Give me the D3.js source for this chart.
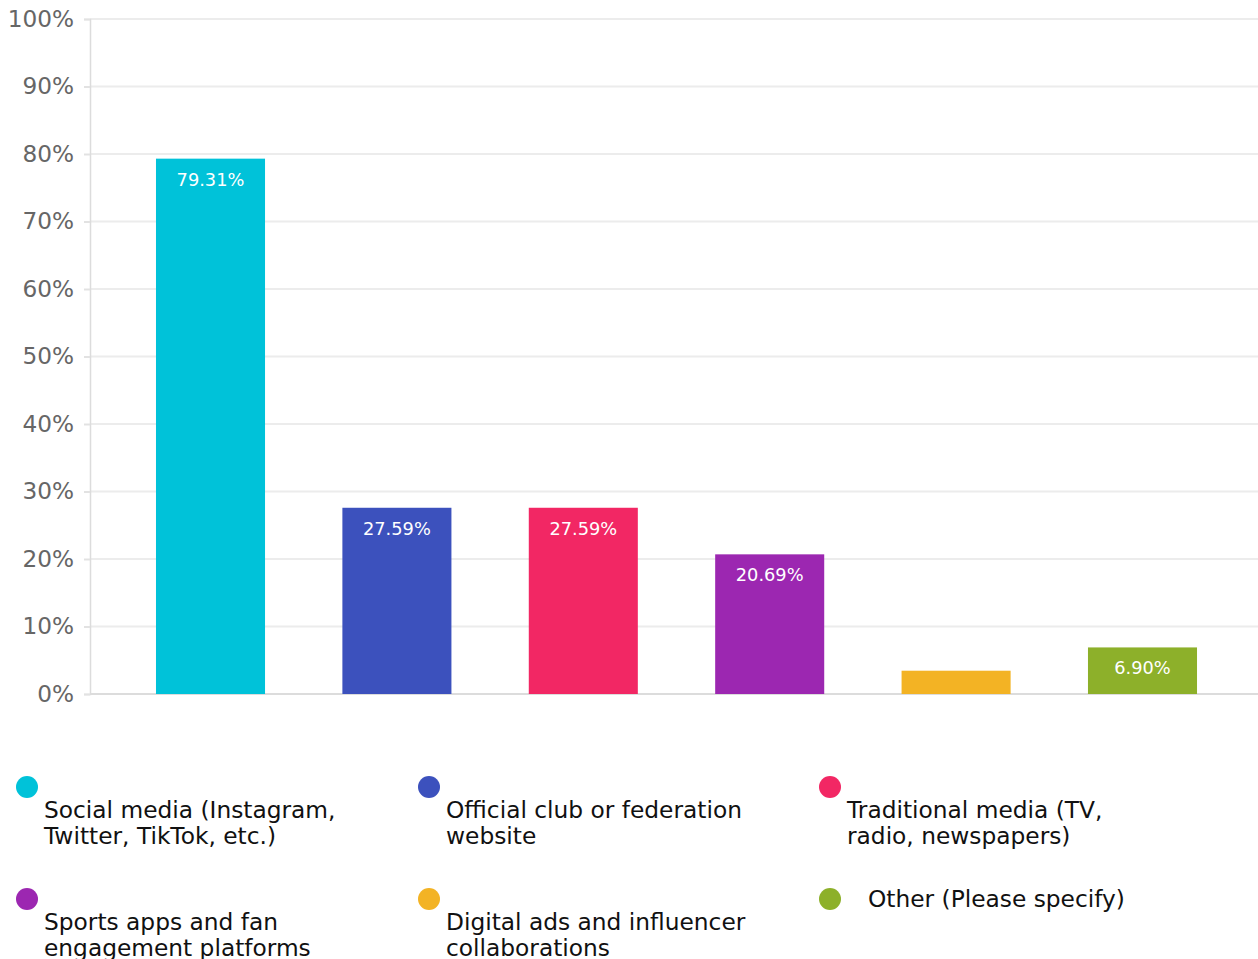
<!DOCTYPE html>
<html>
<head>
<meta charset="utf-8">
<script src="https://cdn.jsdelivr.net/npm/d3@7"></script>
<style>
  html, body { margin: 0; padding: 0; background: #fff; }
  svg { display: block; font-family: "DejaVu Sans", sans-serif; }
</style>
</head>
<body>
<svg id="chart" width="1258" height="959"></svg>
<script>
// Survey answers: share of respondents per information channel
const categories = [
  "Social media (Instagram, Twitter, TikTok, etc.)",
  "Official club or federation website",
  "Traditional media (TV, radio, newspapers)",
  "Sports apps and fan engagement platforms",
  "Digital ads and influencer collaborations",
  "Other (Please specify)"
];
const values = [79.31, 27.59, 27.59, 20.69, 3.45, 6.90];
const showLabel = [true, true, true, true, false, true];
const colors = ["#00c2d9", "#3c51bd", "#f22764", "#9c27b1", "#f3b324", "#8db02a"];
// Legend text broken into lines as displayed
const legendLines = [
  ["Social media (Instagram,", "Twitter, TikTok, etc.)"],
  ["Official club or federation", "website"],
  ["Traditional media (TV,", "radio, newspapers)"],
  ["Sports apps and fan", "engagement platforms"],
  ["Digital ads and influencer", "collaborations"],
  ["Other (Please specify)"]
];
const yTicks = [0, 10, 20, 30, 40, 50, 60, 70, 80, 90, 100];

const svg = d3.select("#chart");
const plot = { left: 90, right: 1258, top: 19, bottom: 694 };

const x = d3.scaleBand()
  .domain(categories)
  .range([plot.left, 1263])
  .paddingInner(0.415)
  .paddingOuter(0.354);

const y = d3.scaleLinear()
  .domain([0, 100])
  .range([plot.bottom, plot.top]);

// Horizontal grid lines
svg.append("g")
  .selectAll("line")
  .data(yTicks.filter(d => d > 0))
  .join("line")
  .attr("x1", plot.left)
  .attr("x2", plot.right)
  .attr("y1", d => y(d))
  .attr("y2", d => y(d))
  .attr("stroke", "#ececec")
  .attr("stroke-width", 2);

// Y axis
const yAxis = svg.append("g")
  .attr("transform", `translate(${plot.left},0)`)
  .call(d3.axisLeft(y).tickValues(yTicks).tickFormat(d => d + "%").tickSize(6).tickPadding(10));
yAxis.select(".domain").attr("stroke", "#dcdcdc").attr("stroke-width", 1.5);
yAxis.selectAll(".tick line").attr("stroke", "#e2e2e2").attr("stroke-width", 2);
yAxis.selectAll(".tick text")
  .attr("fill", "#666")
  .attr("font-size", "23.2px")
  .attr("font-family", "DejaVu Sans, sans-serif");

// Baseline
svg.append("line")
  .attr("x1", plot.left)
  .attr("x2", plot.right)
  .attr("y1", y(0))
  .attr("y2", y(0))
  .attr("stroke", "#dcdcdc")
  .attr("stroke-width", 2);

// Bars
svg.append("g")
  .selectAll("rect")
  .data(values)
  .join("rect")
  .attr("x", (d, i) => x(categories[i]))
  .attr("width", x.bandwidth())
  .attr("y", d => y(d))
  .attr("height", d => y(0) - y(d))
  .attr("fill", (d, i) => colors[i]);

// Value labels inside the bars
svg.append("g")
  .selectAll("text")
  .data(values.map((v, i) => ({ v, i })).filter(d => showLabel[d.i]))
  .join("text")
  .attr("x", d => x(categories[d.i]) + x.bandwidth() / 2)
  .attr("y", d => y(d.v) + 27)
  .attr("text-anchor", "middle")
  .attr("fill", "#fff")
  .attr("font-size", "17.8px")
  .text(d => d.v.toFixed(2) + "%");

// Legend: three columns, two rows
const legend = svg.append("g");
const colX = [16, 418, 819];
const rowY = [787, 899];
categories.forEach((c, i) => {
  const gx = colX[i % 3];
  const gy = rowY[Math.floor(i / 3)];
  const g = legend.append("g").attr("transform", `translate(${gx},${gy})`);
  g.append("circle").attr("cx", 11).attr("cy", 0).attr("r", 11).attr("fill", colors[i]);
  const lines = legendLines[i];
  const single = lines.length === 1;
  const t = g.append("text")
    .attr("fill", "#111")
    .attr("font-size", "23.3px");
  lines.forEach((ln, k) => {
    t.append("tspan")
      .attr("x", single ? 49 : 28)
      .attr("y", single ? 8 : 31 + k * 26)
      .text(ln);
  });
});
</script>
</body>
</html>
